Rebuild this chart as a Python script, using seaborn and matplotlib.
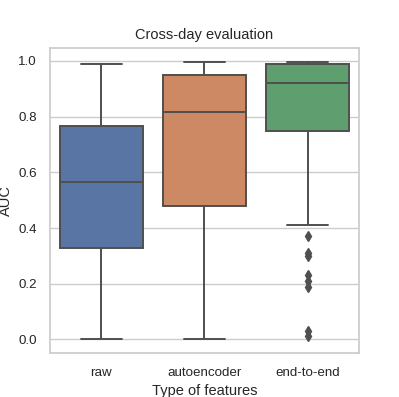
import matplotlib
matplotlib.use("Agg")
import matplotlib.pyplot as plt
import pandas as pd
import seaborn as sns

# AUC values per feature type
raw = [0.0, 0.08, 0.15, 0.22, 0.28, 0.33, 0.38, 0.43, 0.48, 0.52, 0.565,
       0.60, 0.64, 0.68, 0.72, 0.765, 0.82, 0.87, 0.92, 0.96, 0.99]
autoencoder = [0.0, 0.12, 0.22, 0.32, 0.40, 0.48, 0.56, 0.63, 0.70, 0.76, 0.815,
               0.85, 0.88, 0.91, 0.93, 0.95, 0.96, 0.97, 0.98, 0.99, 0.998]
end_to_end = [0.011, 0.03, 0.19, 0.21, 0.23, 0.30, 0.31, 0.37, 0.41, 0.62,
              0.75, 0.78, 0.81, 0.83, 0.85, 0.87, 0.88, 0.89, 0.90, 0.91,
              0.92, 0.93, 0.94, 0.95, 0.96, 0.965, 0.97, 0.975, 0.98, 0.985,
              0.99, 0.991, 0.992, 0.993, 0.994, 0.995, 0.996, 0.997, 0.997,
              0.998, 0.998]
feature_types = ["raw", "autoencoder", "end-to-end"]


def build_frame() -> pd.DataFrame:
    rows = []
    for name, vals in zip(feature_types, [raw, autoencoder, end_to_end]):
        rows += [(name, v) for v in vals]
    return pd.DataFrame(rows, columns=["Type of features", "AUC"])


def plot(df: pd.DataFrame):
    sns.set_theme(style="whitegrid")
    plt.rcParams["font.family"] = ["Liberation Sans", "DejaVu Sans"]
    plt.rcParams["xtick.labelsize"] = 9.6
    plt.rcParams["ytick.labelsize"] = 9.6
    plt.rcParams["axes.labelsize"] = 10.5
    plt.rcParams["axes.titlesize"] = 10.5
    fig, ax = plt.subplots(figsize=(3.99, 3.97), dpi=100)
    gray = "#4f4f4f"
    sns.boxplot(data=df, x="Type of features", y="AUC", hue="Type of features",
                order=feature_types, palette="deep", ax=ax,
                linecolor=gray, linewidth=1.4,
                flierprops=dict(marker="d", markersize=5,
                                markerfacecolor=gray, markeredgecolor=gray))
    ax.set_title("Cross-day evaluation")
    fig.subplots_adjust(left=0.125, right=0.9, top=0.88, bottom=0.11)
    fig.savefig("out.png", dpi=100)


if __name__ == "__main__":
    plot(build_frame())
